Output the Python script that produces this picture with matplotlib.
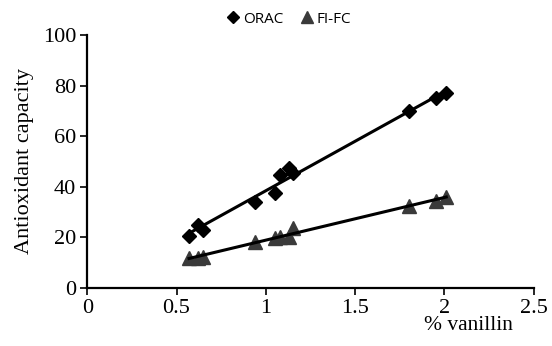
import numpy as np
import matplotlib
matplotlib.use("Agg")
import matplotlib.pyplot as plt

# % vanillin of each sample
vanillin = [0.57, 0.62, 0.65, 0.94, 1.05, 1.08, 1.13, 1.15, 1.80, 1.95, 2.01]
# antioxidant capacity, ORAC and FI-FC
orac = [20.5, 25.0, 23.0, 33.8, 37.5, 44.7, 47.2, 45.3, 69.8, 75.0, 77.0]
fifc = [12.0, 11.8, 12.2, 18.0, 19.8, 20.3, 20.0, 23.8, 32.3, 34.5, 35.8]

xticks = [0, 0.5, 1, 1.5, 2, 2.5]
yticks = [0, 20, 40, 60, 80, 100]

fig = plt.figure(figsize=(5.52, 3.46), dpi=100)
ax = fig.add_axes([0.158, 0.168, 0.809, 0.731])

serif = "Liberation Serif"

# data points
ax.plot(vanillin, orac, linestyle="none", marker="D", markersize=7,
        color="black", label="ORAC", zorder=3)
ax.plot(vanillin, fifc, linestyle="none", marker="^", markersize=10,
        color="#3a3a3a", label="FI-FC", zorder=3)

# linear trend lines
xs = np.array([min(vanillin), max(vanillin)])
for ys in (orac, fifc):
    k, b = np.polyfit(vanillin, ys, 1)
    ax.plot(xs, k * xs + b, color="black", linewidth=2.2, zorder=4)

ax.set_xlim(0, 2.5)
ax.set_ylim(0, 100)
ax.set_xticks(xticks)
ax.set_yticks(yticks)
ax.set_xticklabels(["0", "0.5", "1", "1.5", "2", "2.5"], fontfamily=serif, fontsize=16)
ax.set_yticklabels([str(v) for v in yticks], fontfamily=serif, fontsize=16)
ax.tick_params(direction="out", length=5, width=1.2, pad=3)

for s in ("top", "right"):
    ax.spines[s].set_visible(False)
for s in ("left", "bottom"):
    ax.spines[s].set_linewidth(1.6)

ax.set_ylabel("Antioxidant capacity", fontfamily=serif, fontsize=16, labelpad=6)
fig.text(0.849, 0.058, "% vanillin", fontfamily=serif, fontsize=15.5,
         ha="center", va="center")

fig.legend(loc="center", bbox_to_anchor=(0.524, 0.945), ncol=2, frameon=False,
           prop={"family": "Open Sans", "size": 11}, handlelength=0.7,
           handletextpad=0.3, columnspacing=1.2, markerscale=0.85,
           borderpad=0)

fig.savefig("out.png", dpi=100)
